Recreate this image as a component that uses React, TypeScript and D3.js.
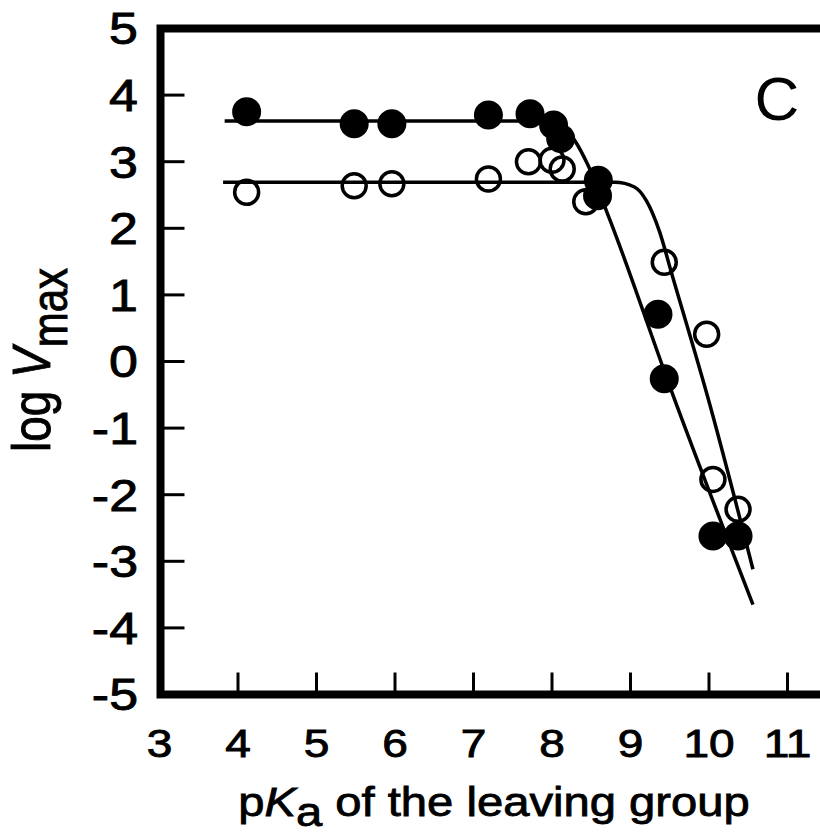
import React, { useEffect, useRef } from 'react';
import * as d3 from 'd3';

const xTicks = [3, 4, 5, 6, 7, 8, 9, 10, 11];
const yTicks = [5, 4, 3, 2, 1, 0, -1, -2, -3, -4, -5];
const yTickLabels = ['5', '4', '3', '2', '1', '0', '-1', '-2', '-3', '-4', '-5'];

// filled circles
const filledPka = [4.11, 5.48, 5.96, 7.19, 7.72, 8.02, 8.11, 8.59, 8.58, 9.35, 9.43, 10.05, 10.37];
const filledLogV = [3.75, 3.57, 3.57, 3.7, 3.72, 3.55, 3.35, 2.72, 2.49, 0.71, -0.26, -2.62, -2.62];

// open circles
const openPka = [4.11, 5.48, 5.96, 7.19, 7.7, 8.0, 8.13, 8.43, 9.43, 9.97, 10.05, 10.37];
const openLogV = [2.54, 2.64, 2.67, 2.74, 3.0, 3.02, 2.89, 2.4, 1.49, 0.41, -1.77, -2.22];

// fitted curves
const filledFitPka = [3.83, 7.85, 8.0, 8.15, 8.3, 8.45, 8.73, 9.54, 10.56];
const filledFitLogV = [3.61, 3.61, 3.6, 3.52, 3.3, 2.97, 2.15, -0.5, -3.65];
const openFitPka = [3.81, 8.8, 9.05, 9.2, 9.37, 9.52, 9.99, 10.56];
const openFitLogV = [2.69, 2.69, 2.62, 2.42, 1.95, 1.34, -0.56, -3.12];

const Chart = () => {
  const svgRef = useRef<SVGSVGElement>(null);

  useEffect(() => {
    const width = 820;
    const height = 836;
    const font = 'Liberation Sans, Arial, Helvetica, sans-serif';
    const stretch = 1.18; // the scan is a bit wide

    const svg = d3.select(svgRef.current)
      .attr('width', width)
      .attr('height', height)
      .style('background', '#ffffff');
    svg.selectAll('*').remove();

    const xScale = d3.scaleLinear().domain([3, 11.5]).range([159.5, 826.75]);
    const yScale = d3.scaleLinear().domain([-5, 5]).range([694.5, 28.5]);

    const left = xScale(3) + 1;
    const top = yScale(5);
    const bottom = yScale(-5);

    // frame (right side is cropped off)
    svg.append('path')
      .attr('d', `M${width + 5},${top} H${left} V${bottom} H${width + 5}`)
      .attr('fill', 'none')
      .attr('stroke', '#000')
      .attr('stroke-width', 8);

    // inward ticks
    svg.selectAll('.ytick')
      .data(yTicks.slice(1, -1))
      .enter().append('line')
      .attr('class', 'ytick')
      .attr('x1', left)
      .attr('x2', left + 24)
      .attr('y1', d => yScale(d))
      .attr('y2', d => yScale(d))
      .attr('stroke', '#000')
      .attr('stroke-width', 3);

    svg.selectAll('.xtick')
      .data(xTicks.slice(1))
      .enter().append('line')
      .attr('class', 'xtick')
      .attr('x1', d => xScale(d))
      .attr('x2', d => xScale(d))
      .attr('y1', bottom)
      .attr('y2', bottom - 22)
      .attr('stroke', '#000')
      .attr('stroke-width', 3);

    // tick labels
    svg.selectAll('.ylabel')
      .data(yTicks)
      .enter().append('text')
      .attr('class', 'ylabel')
      .attr('transform', d => `translate(138,${yScale(d)}) scale(${stretch},1)`)
      .attr('dy', '0.36em')
      .attr('text-anchor', 'end')
      .attr('font-family', font)
      .attr('font-size', 44)
      .attr('stroke', '#000')
      .attr('stroke-width', 0.9)
      .text((d, i) => yTickLabels[i]);

    svg.selectAll('.xlabel')
      .data(xTicks)
      .enter().append('text')
      .attr('class', 'xlabel')
      .attr('transform', d => `translate(${xScale(d)},757) scale(${stretch},1)`)
      .attr('text-anchor', 'middle')
      .attr('font-family', font)
      .attr('font-size', 39)
      .attr('stroke', '#000')
      .attr('stroke-width', 0.9)
      .text(d => d);

    // fitted curves
    const line = d3.line<[number, number]>()
      .x(d => xScale(d[0]))
      .y(d => yScale(d[1]))
      .curve(d3.curveMonotoneX);

    svg.append('path')
      .datum(filledFitPka.map((x, i) => [x, filledFitLogV[i]] as [number, number]))
      .attr('fill', 'none')
      .attr('stroke', '#000')
      .attr('stroke-width', 3.5)
      .attr('d', line);

    svg.append('path')
      .datum(openFitPka.map((x, i) => [x, openFitLogV[i]] as [number, number]))
      .attr('fill', 'none')
      .attr('stroke', '#000')
      .attr('stroke-width', 3.5)
      .attr('d', line);

    // open points
    svg.selectAll('.open')
      .data(openPka)
      .enter().append('circle')
      .attr('class', 'open')
      .attr('cx', d => xScale(d))
      .attr('cy', (d, i) => yScale(openLogV[i]))
      .attr('r', 12)
      .attr('fill', 'none')
      .attr('stroke', '#000')
      .attr('stroke-width', 3.5);

    // filled points
    svg.selectAll('.filled')
      .data(filledPka)
      .enter().append('circle')
      .attr('class', 'filled')
      .attr('cx', d => xScale(d))
      .attr('cy', (d, i) => yScale(filledLogV[i]))
      .attr('r', 14.5)
      .attr('fill', '#000');

    // panel letter
    svg.append('text')
      .attr('x', 777)
      .attr('y', 120)
      .attr('text-anchor', 'middle')
      .attr('font-family', font)
      .attr('font-size', 62)
      .text('C');

    // x title
    const xt = svg.append('text')
      .attr('transform', `translate(494,816) scale(${stretch},1)`)
      .attr('text-anchor', 'middle')
      .attr('font-family', font)
      .attr('font-size', 40)
      .attr('stroke', '#000')
      .attr('stroke-width', 0.8);
    xt.append('tspan').text('p');
    xt.append('tspan').attr('font-style', 'italic').text('K');
    xt.append('tspan').attr('dy', 10).text('a');
    xt.append('tspan').attr('dy', -10).text(' of the leaving group');

    // y title
    const yt = svg.append('text')
      .attr('transform', `translate(50,360) scale(${stretch},1) rotate(-90)`)
      .attr('text-anchor', 'middle')
      .attr('font-family', font)
      .attr('font-size', 46)
      .attr('stroke', '#000')
      .attr('stroke-width', 0.8);
    yt.append('tspan').text('log ');
    yt.append('tspan').attr('font-style', 'italic').text('V');
    yt.append('tspan').attr('dy', 14).attr('font-size', 42).text('max');
  }, []);

  return (
    <svg ref={svgRef} style={{ position: 'absolute', left: 0, top: 0 }}></svg>
  );
};

export default function App() {
  return <Chart />;
}
